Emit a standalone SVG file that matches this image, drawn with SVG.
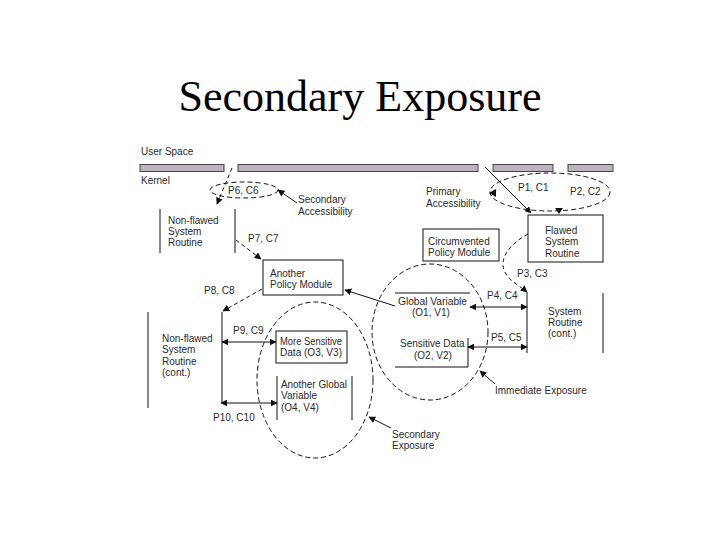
<svg xmlns="http://www.w3.org/2000/svg" width="720" height="540" viewBox="0 0 720 540">
<defs>
<marker id="ah" viewBox="0 0 10 10" refX="9" refY="5" markerWidth="7" markerHeight="7" markerUnits="userSpaceOnUse" orient="auto-start-reverse">
<path d="M0,0 L10,5 L0,10 z" fill="#111"/>
</marker>
<style>
.t{font-family:"Liberation Sans",Arial,sans-serif;font-size:10px;fill:#2a2a2a}
.ttl{font-family:"Liberation Serif","Times New Roman",serif;font-size:44px;fill:#000}
.bar{fill:#bcb4bc;stroke:#444;stroke-width:1}
.box{fill:#fff;stroke:#111;stroke-width:1}
.ln{stroke:#111;stroke-width:1;fill:none}
.sol{stroke:#111;stroke-width:1;fill:none;marker-end:url(#ah)}
.dsh{stroke:#111;stroke-width:1;fill:none;stroke-dasharray:4,3;marker-end:url(#ah)}
.bi{stroke:#111;stroke-width:1;fill:none;marker-start:url(#ah);marker-end:url(#ah)}
.ell{stroke:#111;stroke-width:1;fill:none;stroke-dasharray:5,3}
</style>
</defs>
<rect width="720" height="540" fill="#fff"/>
<text class="ttl" x="360" y="111" text-anchor="middle">Secondary Exposure</text>

<g id="kernel-boundary">
<rect class="bar" x="140" y="164.5" width="84" height="7"/>
<rect class="bar" x="238" y="164.5" width="240" height="7"/>
<rect class="bar" x="493" y="164.5" width="60" height="7"/>
<rect class="bar" x="568" y="164.5" width="45" height="7"/>
<text class="t" x="141" y="155">User Space</text>
<text class="t" x="141" y="184">Kernel</text>
</g>

<g id="connectors">
<ellipse class="ell" cx="244" cy="190" rx="34" ry="8"/>
<ellipse class="ell" cx="550" cy="192" rx="60" ry="19"/>
<polygon points="489,193 496,189 496,197" fill="#111"/>
<polygon points="559,214 555,208 563,208" fill="#111"/>
<ellipse class="ell" cx="430" cy="332" rx="58" ry="68"/>
<ellipse class="ell" cx="315" cy="380" rx="58" ry="78"/>
<path class="dsh" d="M232,168 L217,204"/>
<path class="sol" d="M297,203 L278,190"/>
<path class="sol" d="M485,167 L531,213"/>
<path class="dsh" d="M236,240 L261,259" stroke-dasharray="2,2"/>
<path class="dsh" d="M262,289 L223,311"/>
<path class="sol" d="M395,306 L345,290"/>
<path class="dsh" d="M528,234 C506,246 498,262 506,274 C511,282 520,286 527,292"/>
<path class="bi" d="M470,307 L527,307"/>
<path class="bi" d="M468,347 L527,347"/>
<path class="bi" d="M222,342 L276,342"/>
<path class="bi" d="M221,403 L277,403"/>
<path class="sol" d="M495,384 L480,371"/>
<path class="sol" d="M391,428 L369,417"/>
<text class="t" x="228" y="194">P6, C6</text>
<text class="t" x="518" y="191">P1, C1</text>
<text class="t" x="570" y="195">P2, C2</text>
<text class="t" x="248" y="242">P7, C7</text>
<text class="t" x="204" y="294">P8, C8</text>
<text class="t" x="517" y="277">P3, C3</text>
<text class="t" x="487" y="299">P4, C4</text>
<text class="t" x="491" y="341">P5, C5</text>
<text class="t" x="233" y="334">P9, C9</text>
<text class="t" x="213" y="421">P10, C10</text>
<text class="t" x="298" y="203">Secondary</text>
<text class="t" x="298" y="215">Accessibility</text>
<text class="t" x="426" y="195">Primary</text>
<text class="t" x="426" y="207">Accessibility</text>
<text class="t" x="495" y="394">Immediate Exposure</text>
<text class="t" x="392" y="438">Secondary</text>
<text class="t" x="392" y="449">Exposure</text>
</g>

<g id="nonflawed-routine">
<line class="ln" x1="160" y1="209" x2="160" y2="253"/>
<line class="ln" x1="235" y1="209" x2="235" y2="253"/>
<text class="t" x="168" y="224">Non-flawed</text>
<text class="t" x="168" y="235">System</text>
<text class="t" x="168" y="246">Routine</text>
</g>

<g id="flawed-routine">
<rect class="box" x="528" y="215" width="75" height="47"/>
<text class="t" x="545" y="234">Flawed</text>
<text class="t" x="545" y="245">System</text>
<text class="t" x="545" y="257">Routine</text>
</g>

<g id="circumvented-policy">
<rect class="box" x="423" y="229" width="76" height="32"/>
<text class="t" x="428" y="245">Circumvented</text>
<text class="t" x="428" y="256">Policy Module</text>
</g>

<g id="another-policy">
<rect class="box" x="263" y="260" width="80" height="35"/>
<text class="t" x="270" y="277">Another</text>
<text class="t" x="270" y="288">Policy Module</text>
</g>

<g id="system-routine-cont">
<line class="ln" x1="527" y1="292" x2="527" y2="353"/>
<line class="ln" x1="603" y1="293" x2="603" y2="353"/>
<text class="t" x="548" y="315">System</text>
<text class="t" x="548" y="326">Routine</text>
<text class="t" x="548" y="337">(cont.)</text>
</g>

<g id="nonflawed-routine-cont">
<line class="ln" x1="148" y1="312" x2="148" y2="408"/>
<line class="ln" x1="222" y1="312" x2="222" y2="403"/>
<text class="t" x="162" y="342">Non-flawed</text>
<text class="t" x="162" y="353">System</text>
<text class="t" x="162" y="365">Routine</text>
<text class="t" x="162" y="376">(cont.)</text>
</g>

<g id="more-sensitive-data">
<rect class="box" x="276" y="331" width="71" height="32"/>
<text class="t" x="280" y="345" textLength="62" lengthAdjust="spacingAndGlyphs">More Sensitive</text>
<text class="t" x="280" y="356" textLength="62" lengthAdjust="spacingAndGlyphs">Data (O3, V3)</text>
</g>

<g id="another-global-variable">
<line class="ln" x1="277" y1="376" x2="277" y2="420"/>
<line class="ln" x1="352" y1="376" x2="352" y2="420"/>
<text class="t" x="281" y="388" textLength="66" lengthAdjust="spacingAndGlyphs">Another Global</text>
<text class="t" x="281" y="399">Variable</text>
<text class="t" x="281" y="411">(O4, V4)</text>
</g>

<g id="global-variable">
<line class="ln" x1="395" y1="293" x2="470" y2="293"/>
<text class="t" x="398" y="305" textLength="69" lengthAdjust="spacingAndGlyphs">Global Variable</text>
<text class="t" x="412" y="316">(O1, V1)</text>
</g>

<g id="sensitive-data">
<line class="ln" x1="395" y1="367" x2="468" y2="367"/>
<line class="ln" x1="468" y1="338" x2="468" y2="367"/>
<text class="t" x="400" y="347">Sensitive Data</text>
<text class="t" x="414" y="359">(O2, V2)</text>
</g>
</svg>
